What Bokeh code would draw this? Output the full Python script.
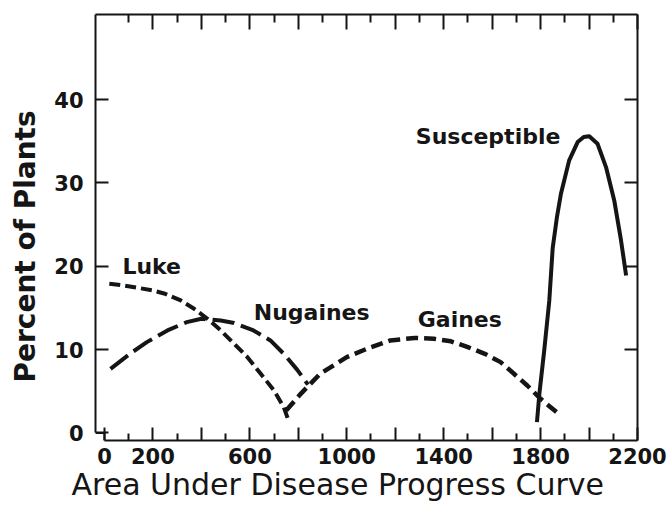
from bokeh.plotting import figure
from bokeh.models import Range1d, LinearAxis, FixedTicker, Label, Title
from bokeh.embed import file_html
from bokeh.resources import INLINE

# ---------------- data ----------------
luke_x = [20, 80, 140, 200, 250, 315, 370, 425, 480, 535, 590, 645, 700, 740, 762]
luke_y = [17.9, 17.7, 17.4, 17.1, 16.7, 15.9, 14.9, 13.7, 12.3, 10.7, 9.1, 7.1, 5.1, 3.1, 1.3]

nugaines_x = [25, 105, 175, 260, 340, 400, 480, 535, 615, 685, 740, 795, 840]
nugaines_y = [7.7, 9.5, 10.9, 12.3, 13.3, 13.7, 13.5, 13.2, 12.3, 11.1, 9.5, 7.6, 5.8]

gaines_x = [750, 810, 890, 1000, 1100, 1180, 1280, 1360, 1430, 1500, 1570, 1635, 1690, 1745, 1800, 1870]
gaines_y = [2.7, 4.7, 7.1, 9.1, 10.3, 11.1, 11.4, 11.3, 11.0, 10.3, 9.5, 8.5, 7.1, 5.7, 4.1, 2.4]

susc_x = [1785, 1795, 1815, 1836, 1850, 1867, 1884, 1918, 1953, 1978, 2001, 2035, 2070, 2104, 2132, 2153]
susc_y = [1.3, 4.7, 9.9, 15.9, 22.2, 25.8, 28.7, 32.7, 34.9, 35.5, 35.6, 34.7, 31.9, 27.9, 23.1, 18.9]

curve_names = ["Luke", "Nugaines", "Gaines", "Susceptible"]
label_x = [74, 616, 1293, 1285]
label_y = [20.0, 14.5, 13.6, 35.6]

x_major = list(range(0, 2201, 200))
x_minor = list(range(100, 2200, 200))
x_labeled = [0, 200, 600, 1000, 1400, 1800, 2200]
y_major = [0, 10, 20, 30, 40]

x_title = "Area Under Disease Progress Curve"
y_title = "Percent of Plants"

X_MIN, X_MAX = -37, 2200
Y_MIN, Y_MAX = -0.9, 50.2

INK = "#151515"
FONT = "DejaVu Sans"

# ---------------- figure ----------------
p = figure(width=670, height=509, x_range=Range1d(X_MIN, X_MAX), y_range=Range1d(Y_MIN, Y_MAX),
           output_backend="svg", toolbar_location=None, title=None)
p.min_border_left = 95
p.min_border_right = 33
p.min_border_top = 14
p.min_border_bottom = 69
p.outline_line_color = None
p.grid.visible = False
p.background_fill_color = "white"
p.border_fill_color = "white"


def style_axis(ax):
    ax.axis_line_color = INK
    ax.axis_line_width = 2
    ax.major_tick_line_color = INK
    ax.major_tick_line_width = 2
    ax.minor_tick_line_color = INK
    ax.minor_tick_line_width = 2
    ax.major_tick_out = 0
    ax.minor_tick_out = 0
    ax.major_label_text_font = FONT
    ax.major_label_text_font_style = "bold"
    ax.major_label_text_font_size = "21px"
    ax.major_label_text_color = INK


xb = p.xaxis[0]
style_axis(xb)
xb.ticker = FixedTicker(ticks=x_major, minor_ticks=x_minor)
xb.bounds = (0, X_MAX)
xb.major_tick_in = 13
xb.minor_tick_in = 7
xb.major_label_standoff = 7
xb.major_label_overrides = {t: "" for t in x_major if t not in x_labeled}

yl = p.yaxis[0]
style_axis(yl)
yl.ticker = FixedTicker(ticks=y_major)
yl.bounds = (0, Y_MAX)
yl.major_tick_in = 13
yl.major_label_standoff = 12

top = LinearAxis(ticker=FixedTicker(ticks=x_major[1:], minor_ticks=x_minor))
style_axis(top)
top.major_tick_in = 15
top.minor_tick_in = 8
top.major_label_text_font_size = "0px"
top.major_label_standoff = 0
top.major_label_overrides = {t: "" for t in x_major}
p.add_layout(top, "above")

right = LinearAxis(ticker=FixedTicker(ticks=y_major[1:]))
style_axis(right)
right.major_tick_in = 13
right.major_label_text_font_size = "0px"
right.major_label_standoff = 0
right.major_label_overrides = {t: "" for t in y_major}
p.add_layout(right, "right")

# small step joining the two offset axes
p.line([X_MIN, 0, 0], [0, 0, Y_MIN], line_color=INK, line_width=2)

# ---------------- curves ----------------
p.line(luke_x, luke_y, line_color=INK, line_width=4, line_dash="11 5")
p.line(nugaines_x, nugaines_y, line_color=INK, line_width=4, line_dash="22 7")
p.line(gaines_x, gaines_y, line_color=INK, line_width=4.5, line_dash="12 6")
p.line(susc_x, susc_y, line_color=INK, line_width=4, line_join="round")

for name, lx, ly in zip(curve_names, label_x, label_y):
    p.add_layout(Label(x=lx, y=ly, text=name, text_font=FONT, text_font_style="bold",
                       text_font_size="22px", text_color=INK, text_align="left",
                       text_baseline="middle"))

# ---------------- axis titles ----------------
p.add_layout(Title(text=x_title, align="left", offset=-24, vertical_align="top", standoff=0,
                   text_font=FONT, text_font_style="normal", text_font_size="30px",
                   text_color=INK), "below")
p.add_layout(Title(text=y_title, align="left", offset=58, vertical_align="top", standoff=15,
                   text_font=FONT, text_font_style="bold", text_font_size="28px",
                   text_color=INK), "left")

open("out.html", "w").write(file_html(p, INLINE))
